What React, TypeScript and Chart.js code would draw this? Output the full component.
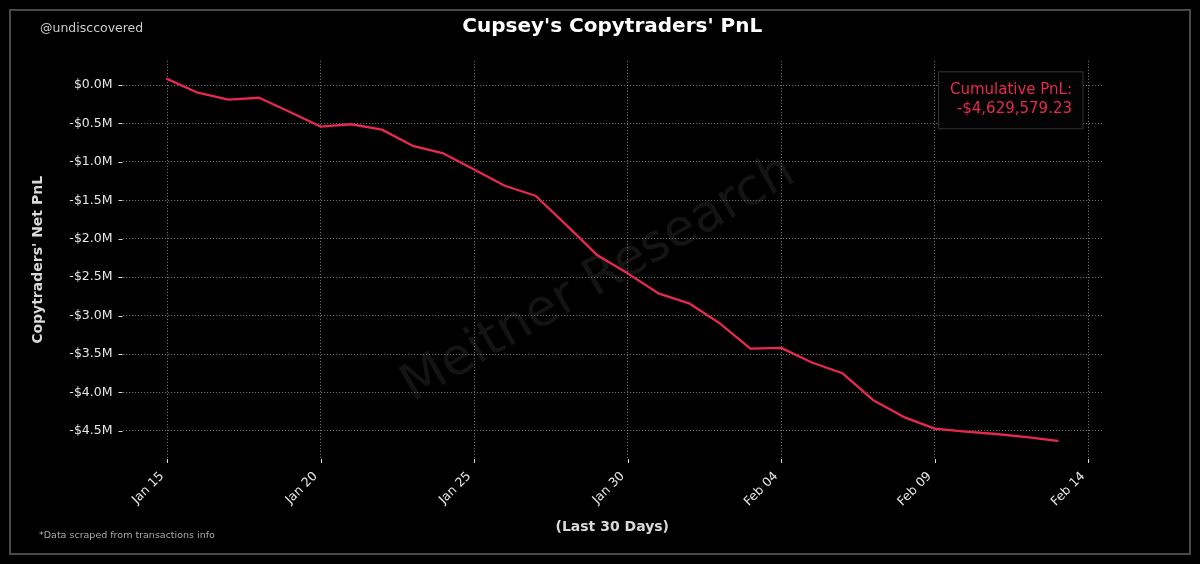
import React, { useEffect, useRef } from 'react';
import { Chart, registerables } from 'chart.js';

Chart.register(...registerables);

// ---- Data ----
const dates: string[] = [
  'Jan 15', 'Jan 16', 'Jan 17', 'Jan 18', 'Jan 19', 'Jan 20', 'Jan 21', 'Jan 22', 'Jan 23', 'Jan 24',
  'Jan 25', 'Jan 26', 'Jan 27', 'Jan 28', 'Jan 29', 'Jan 30', 'Jan 31', 'Feb 01', 'Feb 02', 'Feb 03',
  'Feb 04', 'Feb 05', 'Feb 06', 'Feb 07', 'Feb 08', 'Feb 09', 'Feb 10', 'Feb 11', 'Feb 12', 'Feb 13',
];
// cumulative PnL in millions of USD
const pnl: number[] = [
  0.08, -0.10, -0.19, -0.165, -0.35, -0.54, -0.51, -0.58, -0.79, -0.89,
  -1.10, -1.31, -1.44, -1.82, -2.21, -2.45, -2.71, -2.84, -3.10, -3.43,
  -3.42, -3.61, -3.75, -4.10, -4.32, -4.47, -4.51, -4.54, -4.58, -4.63,
];
const xTickDays: number[] = [0, 5, 10, 15, 20, 25, 30];
const xTickLabels: string[] = ['Jan 15', 'Jan 20', 'Jan 25', 'Jan 30', 'Feb 04', 'Feb 09', 'Feb 14'];
const yTickValues: number[] = [0, -0.5, -1.0, -1.5, -2.0, -2.5, -3.0, -3.5, -4.0, -4.5];

const TITLE = "Cupsey's Copytraders' PnL";
const Y_TITLE = "Copytraders' Net PnL";
const X_TITLE = '(Last 30 Days)';
const HANDLE = '@undisccovered';
const FOOTNOTE = '*Data scraped from transactions info';
const WATERMARK = 'Meitner Research';
const ANNOT_LINES: string[] = ['Cumulative PnL:', '-$4,629,579.23'];

const FONT = '"DejaVu Sans", "Liberation Sans", sans-serif';
const RED = '#e8294f';

// matplotlib-like 5% margins
const nDays = dates.length - 1;
const xMin = -0.05 * nDays;
const xMax = nDays + 0.05 * nDays;
const dMax = Math.max(...pnl);
const dMin = Math.min(...pnl);
const yMin = dMin - 0.05 * (dMax - dMin);
const yMax = dMax + 0.05 * (dMax - dMin);

const fmtM = (v: number) => (v < 0 ? '-' : '') + '$' + Math.abs(v).toFixed(1) + 'M';

const decor = {
  id: 'decor',
  beforeDraw(chart: any) {
    const { ctx, chartArea } = chart;
    ctx.save();
    ctx.fillStyle = '#000';
    ctx.fillRect(0, 0, chart.width, chart.height);
    ctx.strokeStyle = '#4a4a4a';
    ctx.lineWidth = 2;
    ctx.strokeRect(10, 10, chart.width - 20, chart.height - 20);
    // watermark
    const cx = chartArea.left + (chartArea.right - chartArea.left) * 0.486;
    const cy = chartArea.top + (chartArea.bottom - chartArea.top) * 0.55;
    ctx.translate(cx, cy);
    ctx.rotate((-30 * Math.PI) / 180);
    ctx.font = `51px ${FONT}`;
    ctx.fillStyle = 'rgba(255,255,255,0.08)';
    ctx.textAlign = 'center';
    ctx.textBaseline = 'middle';
    ctx.fillText(WATERMARK, 0, 0);
    ctx.restore();
  },
  afterDraw(chart: any) {
    const { ctx, chartArea, scales } = chart;
    ctx.save();
    // tick marks
    ctx.strokeStyle = '#dddddd';
    ctx.lineWidth = 1;
    ctx.beginPath();
    yTickValues.forEach((v) => {
      const y = Math.round(scales.y.getPixelForValue(v)) + 0.5;
      ctx.moveTo(chartArea.left - 4, y);
      ctx.lineTo(chartArea.left, y);
    });
    xTickDays.forEach((d) => {
      const x = Math.round(scales.x.getPixelForValue(d)) + 0.5;
      ctx.moveTo(x, chartArea.bottom);
      ctx.lineTo(x, chartArea.bottom + 4);
    });
    ctx.stroke();

    // title
    ctx.fillStyle = '#ffffff';
    ctx.font = `bold 20px ${FONT}`;
    ctx.textAlign = 'center';
    ctx.textBaseline = 'middle';
    ctx.fillText(TITLE, (chartArea.left + chartArea.right) / 2, 27);

    // handle
    ctx.fillStyle = '#cccccc';
    ctx.font = `12.5px ${FONT}`;
    ctx.textAlign = 'left';
    ctx.fillText(HANDLE, 40, 29);

    // footnote
    ctx.fillStyle = '#aaaaaa';
    ctx.font = `9.5px ${FONT}`;
    ctx.fillText(FOOTNOTE, 39, 536);

    // annotation box
    const bx = chartArea.right - 164;
    const by = chartArea.top + 10.5;
    const bw = 144.5;
    const bh = 57;
    ctx.fillStyle = 'rgba(3,3,3,0.92)';
    ctx.fillRect(bx, by, bw, bh);
    ctx.strokeStyle = '#333333';
    ctx.lineWidth = 1;
    ctx.strokeRect(bx + 0.5, by + 0.5, bw, bh);
    ctx.fillStyle = RED;
    ctx.font = `15px ${FONT}`;
    ctx.textAlign = 'right';
    ANNOT_LINES.forEach((t, i) => {
      ctx.fillText(t, bx + bw - 10.5, by + 18.5 + i * 19.3);
    });
    ctx.restore();
  },
};

export default function App() {
  const ref = useRef<HTMLCanvasElement>(null);
  useEffect(() => {
    document.body.style.margin = '0';
    document.body.style.background = '#000';
    Chart.defaults.font.family = FONT;
    const gridColor = 'rgba(190,190,190,0.7)';
    const chart = new Chart(ref.current as HTMLCanvasElement, {
      type: 'line',
      data: {
        labels: dates,
        datasets: [
          {
            label: 'PnL',
            data: pnl.map((v, i) => ({ x: i, y: v })),
            borderColor: RED,
            backgroundColor: RED,
            borderWidth: 2.3,
            pointRadius: 0,
            tension: 0,
            fill: false,
            borderJoinStyle: 'round',
            borderCapStyle: 'round',
          },
        ],
      },
      options: {
        animation: false,
        responsive: false,
        devicePixelRatio: 1,
        layout: { padding: { left: 20, right: 98, top: 60.8, bottom: 20 } },
        plugins: {
          legend: { display: false },
          tooltip: { enabled: false },
          title: { display: false },
        },
        scales: {
          x: {
            type: 'linear',
            min: xMin,
            max: xMax,
            afterBuildTicks: (s: any) => {
              s.ticks = xTickDays.map((v) => ({ value: v }));
            },
            afterFit: (s: any) => {
              s.height = 85;
            },
            ticks: {
              autoSkip: false,
              minRotation: 45,
              maxRotation: 45,
              padding: 10,
              labelOffset: -5,
              color: '#e6e6e6',
              font: { size: 12.5 },
              callback: (v: any) => {
                const k = xTickDays.indexOf(Number(v));
                return k >= 0 ? xTickLabels[k] : '';
              },
            },
            grid: { color: gridColor, lineWidth: 0.8, drawTicks: false },
            border: { display: false, dash: [1.2, 1.8] },
            title: {
              display: true,
              text: X_TITLE,
              color: '#d9d9d9',
              font: { size: 14, weight: 'bold' },
              padding: { top: 0, bottom: 8.6 },
            },
          },
          y: {
            type: 'linear',
            min: yMin,
            max: yMax,
            afterBuildTicks: (s: any) => {
              s.ticks = yTickValues.map((v) => ({ value: v }));
            },
            afterFit: (s: any) => {
              s.width = 102.5;
            },
            ticks: {
              padding: 10,
              color: '#e6e6e6',
              font: { size: 12.5 },
              callback: (v: any) => fmtM(Number(v)),
            },
            grid: { color: gridColor, lineWidth: 0.8, drawTicks: false },
            border: { display: false, dash: [1.2, 1.8] },
            title: {
              display: true,
              text: Y_TITLE,
              color: '#d9d9d9',
              font: { size: 14, weight: 'bold' },
              padding: { top: 10, bottom: 0 },
            },
          },
        },
      },
      plugins: [decor],
    } as any);
    return () => chart.destroy();
  }, []);
  return (
    <div style={{ position: 'fixed', left: 0, top: 0, width: 1200, height: 564, background: '#000' }}>
      <canvas ref={ref} width={1200} height={564} style={{ display: 'block', width: 1200, height: 564 }} />
    </div>
  );
}
